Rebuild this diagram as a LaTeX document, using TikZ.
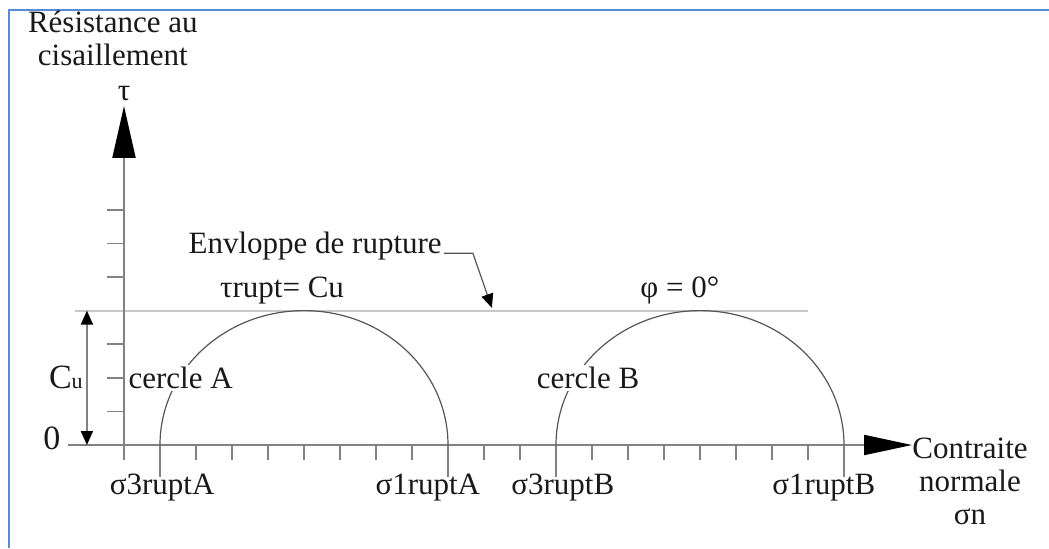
\documentclass[tikz,border=0pt]{standalone}
\usepackage{fontspec}
\setmainfont{Liberation Serif}
\usetikzlibrary{arrows.meta}

\definecolor{framec}{RGB}{88,140,214}
\definecolor{axisc}{RGB}{130,130,130}
\definecolor{envc}{RGB}{200,200,200}
\definecolor{arcc}{RGB}{85,85,85}
\definecolor{textc}{RGB}{25,25,25}

\begin{document}
\begin{tikzpicture}[x=18pt,y=16.8pt,
    lbl/.style={text=textc,font=\fontsize{15.5}{16.5}\selectfont,inner sep=1pt},
    axis/.style={draw=axisc,line width=1pt},
    tick/.style={draw=axisc,line width=0.9pt},
    mohr/.style={draw=arcc,line width=0.6pt}]
    \useasboundingbox (-62pt,-51.5pt) rectangle (462.5pt,222.5pt);

    % Frame
    \draw[framec,line width=1.2pt] (-57.5pt,-51.5pt) -- (-57.5pt,217.5pt) -- (462.5pt,217.5pt);

    % Envelope tau = Cu
    \draw[envc,line width=1pt] (-1.36,4) -- (19,4);

    % Axes
    \draw[axis,-{Triangle[length=26pt,width=11.5pt,color=black]}] (0,-0.45) -- (0,10.09);
    \draw[axis,-{Triangle[length=24pt,width=10pt,color=black]}] (-1.56,0) -- (21.89,0);

    % Ticks
    \foreach \i in {1,...,20} \draw[tick] (\i,0) -- (\i,-0.45);
    \foreach \i in {1,9,12,20} \draw[tick] (\i,0) -- (\i,-0.95);
    \foreach \j in {1,2,3,5,6,7} \draw[tick] (0,\j) -- (-0.47,\j);

    % Mohr circles
    \draw[mohr] (1,0) arc[start angle=180,end angle=0,x radius=72pt,y radius=67.2pt];
    \draw[mohr] (12,0) arc[start angle=180,end angle=0,x radius=72pt,y radius=67.2pt];

    % Cu
    \draw[tick,{Triangle[length=7pt,width=6pt,color=black]}-{Triangle[length=7pt,width=6pt,color=black]}] (-1.03,0) -- (-1.03,4);
    \node[lbl,anchor=east] (cu) at (-1.08,2) {\fontsize{17}{17}\selectfont C{\fontsize{11}{11}\selectfont u}};
    \node[lbl] (zero) at (-2.0,0.2) {\fontsize{17}{17}\selectfont 0};

    % Labels
    \node[lbl,fill=white,anchor=west] (cercleA) at (0.06,2) {cercle A};
    \node[lbl,fill=white] (cercleB) at (12.89,2) {cercle B};
    \node[lbl] (trupt) at (4.39,4.61) {τrupt= Cu};
    \node[lbl] (phi) at (15.44,4.61) {φ = 0°};
    \node[lbl] (env) at (5.31,5.92) {Envloppe de rupture};
    \coordinate (bend) at (9.69,5.71);
    \coordinate (tipE) at (10.22,4.08);
    \draw[arcc,line width=0.6pt,-{Triangle[length=7pt,width=6pt,color=black]}] (bend -| env.east) -- (bend) -- (tipE);

    \node[lbl,align=center] (tauaxis) at (-0.31,12.1) {Résistance au\\cisaillement};
    \node[lbl] (tau) at (0,10.45) {τ};
    \node[lbl,align=center] (sigaxis) at (23.5,-1.07) {Contraite\\normale\\σn};

    \node[lbl] (s3A) at (1.06,-1.28) {σ3ruptA};
    \node[lbl] (s1A) at (8.44,-1.28) {σ1ruptA};
    \node[lbl] (s3B) at (12.19,-1.28) {σ3ruptB};
    \node[lbl] (s1B) at (19.44,-1.28) {σ1ruptB};
\end{tikzpicture}
\end{document}
